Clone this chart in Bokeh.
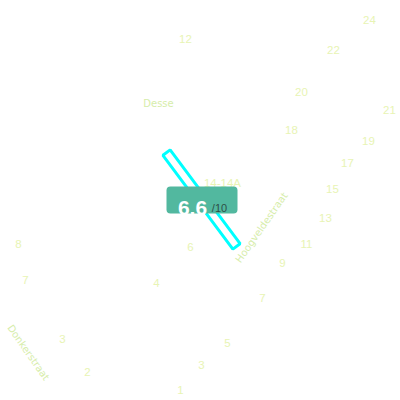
import numpy as np
from bokeh.plotting import figure
from bokeh.models import Range1d
from bokeh.core.properties import value
from bokeh.embed import file_html
from bokeh.resources import INLINE

# House-number labels (map positions in screen pixels)
num_labels = ["24", "12", "22", "20", "21", "18", "19", "17", "15", "13", "11", "9",
              "8", "6", "7", "4", "7", "3", "5", "2", "3", "1", "14-14A"]
num_x = [369, 185, 333, 301, 389, 291, 368, 347, 332, 325, 306, 282,
         18, 190, 25, 156, 262, 62, 227, 87, 201, 180, 222]
num_y = [19, 38, 49, 91, 109, 129, 140, 162, 188, 217, 243, 262,
         243, 246, 279, 282, 297, 338, 342, 371, 364, 389, 182]

# Street names
street_labels = ["Desse", "Hoogveldestraat", "Donkerstraat"]
street_x = [158, 261, 28]
street_y = [103, 227, 352]
street_angle_deg = [0, 55, -55]

# Highlighted parcel (rotated outline)
parcel_cx, parcel_cy = [201], [199]
parcel_len, parcel_wid = [117], [9]
parcel_angle_deg = [-53.3]

# Score badge
score_text = ["6,6"]
score_max = ["/10"]
badge_left, badge_right = [166], [237]
badge_top, badge_bottom = [186], [213]

p = figure(width=400, height=400, output_backend="svg", toolbar_location=None,
           x_range=Range1d(0, 400), y_range=Range1d(400, 0),
           min_border=0, outline_line_color=None)
p.axis.visible = False
p.grid.visible = False
p.background_fill_color = "white"
p.border_fill_color = "white"

p.text(x=num_x, y=num_y, text=num_labels, text_align="center", text_baseline="middle",
       text_font=value("Liberation Sans"), text_font_size="11.5px", text_color="#e8f4b4")

p.text(x=street_x, y=street_y, text=street_labels,
       angle=np.deg2rad(street_angle_deg), text_align="center", text_baseline="middle",
       text_font=value("DejaVu Sans"), text_font_size="10px", text_color="#d6edaa")

p.rect(x=parcel_cx, y=parcel_cy, width=parcel_len, height=parcel_wid,
       angle=np.deg2rad(parcel_angle_deg), fill_color=None,
       line_color="#00ffff", line_width=3)

try:
    p.quad(left=badge_left, right=badge_right, top=badge_top, bottom=badge_bottom,
           fill_color="#52b89f", line_color=None, border_radius=4)
except Exception:
    p.quad(left=badge_left, right=badge_right, top=badge_top, bottom=badge_bottom,
           fill_color="#52b89f", line_color=None)

p.text(x=[192], y=[207], text=score_text, text_align="center", text_baseline="alphabetic",
       text_font=value("Liberation Sans"), text_font_style="bold",
       text_font_size="21px", text_color="white")
p.text(x=[219], y=[207], text=score_max, text_align="center", text_baseline="alphabetic",
       text_font=value("Liberation Sans"), text_font_size="11px", text_color="#2f4f46")

open("out.html", "w").write(file_html(p, INLINE))
